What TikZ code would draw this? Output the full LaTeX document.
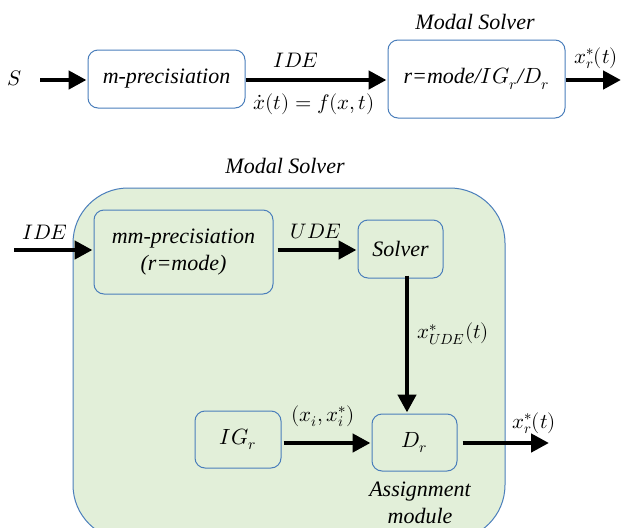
\documentclass[tikz,border=0pt]{standalone}
\usepackage{fontspec}
\usepackage{unicode-math}
\setmainfont{Liberation Serif}[ItalicFont={Liberation Serif Italic}]
\setmathfont{Latin Modern Math}
\usetikzlibrary{arrows.meta}
\definecolor{edgeblue}{HTML}{4A7EBB}
\definecolor{panelgreen}{HTML}{E2EFD9}
\tikzset{
  block/.style={draw=edgeblue, line width=1pt, rounded corners=10pt},
  flow/.style={line width=4.5pt, -{Triangle[length=18pt,width=18pt]}, shorten >=1pt},
  lbl/.style={inner sep=0pt, font=\fontsize{21}{25}\selectfont},
  boxtext/.style={font=\fontsize{22}{27}\selectfont\itshape, align=center},
  heading/.style={inner sep=0pt, font=\fontsize{22}{27}\selectfont\itshape}
}
\begin{document}
\begin{tikzpicture}[x=1pt,y=-1pt]
\useasboundingbox (0,0) rectangle (625,528);
\begin{scope}
\clip (0,0) rectangle (625,528);
% outer panel of the modal solver
\draw[draw=edgeblue, line width=1pt, fill=panelgreen, rounded corners=55pt]
  (73,188) rectangle (505,540);
\end{scope}

% ---- top row ----
\node[lbl] (S) at (15,78) {$S$};
\node[block, minimum width=157pt, minimum height=58pt, boxtext] (mp) at (166.5,79) {m-precisiation};
\node[block, minimum width=177pt, minimum height=78pt, boxtext] (ms) at (476.5,79) {r=mode/$IG_r$/$D_r$};
\node[heading] (mst) at (475,22) {Modal Solver};
\coordinate (out1) at (622,80);
\draw[flow] ([xshift=18pt]S.east |- 0,80) coordinate (sin) -- (mp.west |- 0,80);
\draw[flow] (mp.east |- 0,80) -- (ms.west |- 0,80);
\draw[flow] (ms.east |- 0,80) -- (out1);
\node[lbl] (ide1) at (296,60) {$IDE$};
\node[lbl] (fx) at (314,104) {$\dot{x}(t)=f(x,t)$};
\node[lbl] (xr1) at (596,58) {$x_r^{*}(t)$};

% ---- lower panel ----
\node[heading] (mst2) at (285,166) {Modal Solver};
\node[block, minimum width=179pt, minimum height=84pt, boxtext] (mmp) at (183.5,252) {mm-precisiation\\(r=mode)};
\node[block, minimum width=85pt, minimum height=58pt, boxtext] (sol) at (400.5,249) {Solver};
\node[block, minimum width=86pt, minimum height=57pt, boxtext] (ig) at (238,439.5) {$IG_r$};
\node[block, minimum width=85pt, minimum height=57pt, boxtext] (dr) at (414.5,442.5) {$D_r$};
\coordinate (in2) at (14,250);
\coordinate (out2) at (550,443);
\draw[flow] (in2) -- (mmp.west |- 0,250);
\draw[flow] ([xshift=4pt]mmp.east |- 0,250) -- (sol.west |- 0,250);
\draw[flow] ([yshift=3pt]sol.south -| 407,0) -- (dr.north -| 407,0);
\draw[flow] ([xshift=2pt]ig.east |- 0,443) -- (dr.west |- 0,443);
\draw[flow] ([xshift=5pt]dr.east |- 0,443) -- (out2);
\node[lbl] (ide2) at (45,232) {$IDE$};
\node[lbl] (ude) at (316,232) {$UDE$};
\node[lbl] (xude) at (453,334) {$x_{UDE}^{*}(t)$};
\node[lbl] (xi) at (323,416) {$(x_i,x_i^{*})$};
\node[lbl] (xr2) at (534,423) {$x_r^{*}(t)$};
\node[boxtext, inner sep=0pt] (am) at (420,503) {Assignment\\module};
\end{tikzpicture}
\end{document}
